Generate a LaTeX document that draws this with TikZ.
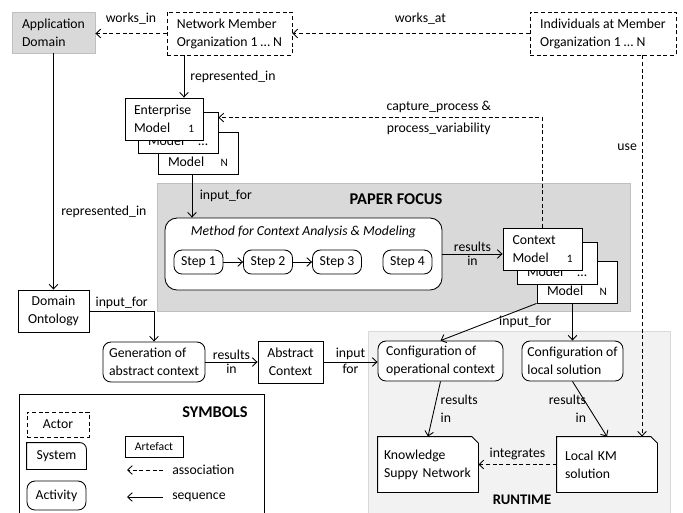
\documentclass[tikz,border=0pt]{standalone}
\usepackage{fontspec}
\setmainfont{Carlito}
\usetikzlibrary{arrows.meta,calc,backgrounds}
\definecolor{focusgray}{HTML}{D9D9D9}
\definecolor{rungray}{HTML}{F2F2F2}
\definecolor{edgegray}{HTML}{BFBFBF}
\tikzset{every picture/.style={>={Straight Barb[length=3.5pt,width=6.5pt]}},
  every node/.style={font=\fontsize{10.3}{13.5}\selectfont},
  lbl/.style={inner sep=1.5pt},
  ttl/.style={font=\fontsize{12.3}{14}\bfseries},
  sz/.style 2 args={minimum width=#1*0.75pt, minimum height=#2*0.75pt},
  box/.style={draw, line width=0.65pt, fill=white, align=left, inner sep=0pt},
  actor/.style={box, dash pattern=on 3pt off 2pt},
  act/.style={box, rounded corners=6pt},
  seq/.style={->, line width=0.65pt},
  assoc/.style={->, line width=0.65pt, dash pattern=on 3pt off 2pt}}
\newcommand{\idx}[1]{{\fontsize{8.5}{10}\selectfont #1}}
\newcommand{\cutbox}[1]{\filldraw[fill=white, line width=0.65pt] (#1.south west) -- (#1.north west)
  -- ([xshift=-5pt]#1.north east) -- ([yshift=-5pt]#1.north east) -- (#1.south east) -- cycle;}

\begin{document}
\begin{tikzpicture}[x=0.75pt,y=-0.75pt]
  \useasboundingbox (0,0) rectangle (683,512);
  % shaded areas
  \begin{scope}[on background layer]
    \filldraw[fill=focusgray, draw=edgegray] (157,183) rectangle (630,311);
    \filldraw[fill=rungray, draw=focusgray] (368,331) rectangle (670,520);
  \end{scope}
  \node[ttl] (focus) at (396,199) {PAPER FOCUS};
  \node[ttl, font=\fontsize{11}{13}\bfseries] (runtime) at (522,500) {RUNTIME};

  % actors and domain
  \node[box, fill=focusgray, draw=edgegray, sz={83}{41}] (appdom) at (53.5,32.5) {Application\\Domain};
  \node[actor, sz={125}{43}] (netorg) at (229.5,33.5) {Network Member\\Organization 1 … N};
  \node[actor, sz={146}{43}] (indiv) at (603,33.5) {Individuals at Member\\Organization 1 … N};

  % enterprise models
  \node[box, sz={80}{42}, text width=45pt] (ent3) at (198,153) {\vphantom{Ep}\\Model\hfill\idx{N}};
  \node[box, sz={80}{41}, text width=45pt] (ent2) at (178,132.5) {\vphantom{Ep}\\Model\hfill …};
  \node[box, sz={78}{42}, text width=45pt] (ent1) at (164,119) {Enterprise\\Model\hfill\idx{1}};

  % method
  \node[box, rounded corners=9pt, sz={277}{72}] (method) at (303.5,254) {};
  \node[font=\fontsize{10.3}{13.5}\itshape] (mtitle) at (303.5,232) {Method for Context Analysis \& Modeling};
  \node[act, sz={49}{24}] (step1) at (198.5,262) {Step 1};
  \node[act, sz={49}{24}] (step2) at (268,262) {Step 2};
  \node[act, sz={49}{24}] (step3) at (337,262) {Step 3};
  \node[act, sz={49}{24}] (step4) at (407.5,262) {Step 4};

  % context models
  \node[box, sz={80}{42}, text width=45pt] (ctx3) at (577,282) {\vphantom{Ep}\\Model\hfill\idx{N}};
  \node[box, sz={80}{42}, text width=45pt] (ctx2) at (557,263) {\vphantom{Ep}\\Model\hfill …};
  \node[box, sz={79}{42}, text width=45pt] (ctx1) at (542.5,249) {Context\\Model\hfill\idx{1}};

  % generation
  \node[box, sz={71}{42}, align=center] (domont) at (53.5,311) {Domain\\Ontology};
  \node[act, sz={102}{40}] (gen) at (154,362) {Generation of\\abstract context};
  \node[box, sz={65}{42}, align=center] (abstr) at (290.5,362) {Abstract\\Context};

  % runtime
  \node[act, sz={125}{40}] (confop) at (440.5,361) {Configuration of\\operational context};
  \node[act, sz={101}{40}] (conflocal) at (572.5,361) {Configuration of\\local solution};
  \node[box, draw=none, fill=none, sz={100}{55}, text width=66pt] (ksn) at (428,464.5) {Knowledge\\Suppy Network};
  \node[box, draw=none, fill=none, sz={100}{55}, text width=63pt] (localkm) at (607,464.5) {Local KM\\solution};
  \begin{scope}[on background layer]
    \cutbox{ksn}
    \cutbox{localkm}
  \end{scope}

  % connectors
  \draw[assoc] (netorg.west) -- (netorg.west -| appdom.east) node[lbl, midway, above=5pt] {works\_in};
  \draw[assoc] (indiv.west) -- (netorg.east) node[lbl, pos=0.46, above=5pt] {works\_at};
  \coordinate (repr) at ($(ent1.north)+(20,0)$);
  \draw[seq] (netorg.south -| repr) -- (repr) node[lbl, midway, right=3pt] {represented\_in};
  \coordinate (capt) at ($(ent2.north east)+(0,6)$);
  \draw[assoc] (ctx1.north) |- (capt) node[lbl, pos=0.66, align=center] {capture\_process \&\\[3pt]process\_variability};
  \coordinate (usept) at ($(indiv.south)+(39,0)$);
  \draw[assoc] (usept) -- (usept |- localkm.north) node[lbl, pos=0.24, left=2pt] {use};
  \draw[seq] (appdom.south) -- (domont.north) node[lbl, pos=0.67, right=4pt] {represented\_in};
  \coordinate (inpt) at ($(ent3.south)+(-6,0)$);
  \draw[seq] (inpt) -- (inpt |- method.north) node[lbl, midway, right=4pt] {input\_for};
  \draw[seq] (step1) -- (step2);
  \draw[seq] (step2) -- (step3);
  \draw[seq] (method.east) -- (method.east -| ctx1.west)
    node[lbl, midway, above] {results} node[lbl, midway, below] {in};
  \draw[seq] (ctx3.south west) -- (confop.north);
  \draw[seq] (ctx3.south -| conflocal.north) -- (conflocal.north) node[lbl, midway, left=14pt] {input\_for};
  \draw[seq] (domont.east) -| (gen.north) node[lbl, pos=0.25, above] {input\_for};
  \draw[seq] (gen.east) -- (abstr.west)
    node[lbl, midway, above] {results} node[lbl, midway, below] {in};
  \draw[seq] (abstr.east) -- (abstr.east -| confop.west)
    node[lbl, midway, above] {input} node[lbl, midway, below] {for};
  \draw[seq] (confop.south) -- (ksn.north) node[lbl, midway, right=3pt, align=left] {results\\in};
  \draw[seq] (conflocal.south) -- (localkm.north) node[lbl, midway, left=1pt, align=right] {results\\in};
  \draw[assoc] (localkm.west) -- (ksn.east) node[lbl, midway, above=2pt] {integrates};

  % legend
  \draw[line width=0.65pt] (19,394) rectangle (264,520);
  \node[ttl] (symtitle) at (215,412) {SYMBOLS};
  \node[actor, sz={62}{25}, align=center] (legactor) at (58,424.5) {Actor};
  \node[box, draw=none, sz={59}{26}] (legsys) at (56.5,456) {System};
  \draw[line width=0.65pt] (legsys.south west) -- (legsys.north west) [rounded corners=5pt] -- (legsys.north east)
    [sharp corners] -- (legsys.south east) -- cycle;
  \node[act, sz={59}{29}] (legact) at (56.5,495.5) {Activity};
  \node[box, sz={58}{21}, font=\fontsize{8.8}{10}\selectfont] (legart) at (154,446.5) {Artefact};
  \node[lbl, anchor=west] (legassoc) at (170,470) {association};
  \coordinate (legassocend) at (127,470);
  \draw[assoc, shorten <=5pt] (legassoc.west) -- (legassocend);
  \node[lbl, anchor=west] (legseq) at (170,497) {sequence};
  \coordinate (legseqend) at (127,497);
  \draw[seq, shorten <=5pt] (legseq.west) -- (legseqend);
\end{tikzpicture}
\end{document}
